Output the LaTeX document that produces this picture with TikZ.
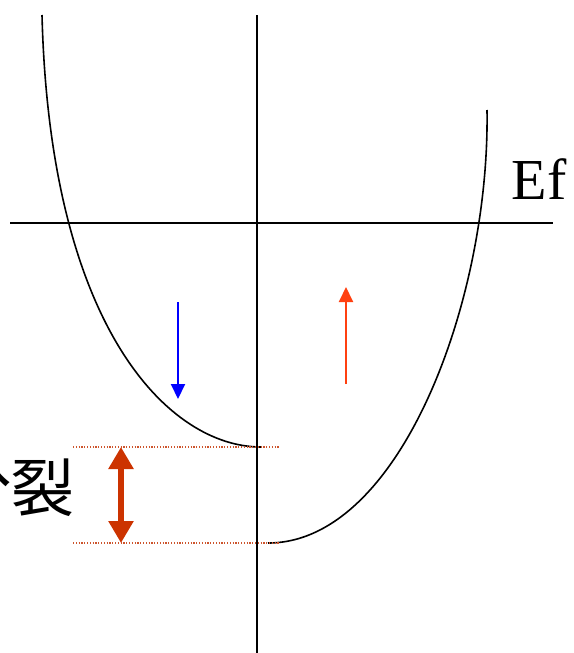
\documentclass[tikz,border=0pt]{standalone}
\usepackage{fontspec}
\setmainfont{Liberation Serif}
\newfontfamily\cjk{Noto Sans CJK JP}
\usetikzlibrary{arrows.meta}
\definecolor{splitred}{RGB}{204,51,0}
\definecolor{dotred}{RGB}{205,85,45}
\definecolor{uparrow}{RGB}{255,64,16}
\tikzset{
  axisline/.style={line width=1.5pt, black},
  band/.style={line width=1.6pt, black},
  level/.style={dotred, line width=1.1pt, dash pattern=on 1.2pt off 1.6pt},
  spinarrow/.style={line width=2pt, -{Triangle[length=15pt,width=14pt]}},
}
\begin{document}
\begin{tikzpicture}[x=1pt,y=-1pt]
\useasboundingbox (0,0) rectangle (573,653);
% axes
\coordinate (vtop) at (257,15);
\coordinate (vbot) at (257,653);
\coordinate (hl) at (10,223);
\coordinate (hr) at (553,223);
\draw[axisline] (vtop) -- (vbot);
\draw[axisline] (hl) -- (hr);
\node[font=\fontsize{58}{60}\selectfont, inner sep=0pt, anchor=base] (ef) at (539,199) {Ef};
% bands
\coordinate (lmin) at (261,447);
\coordinate (ltop) at (42,15);
\coordinate (rmin) at (268,543);
\coordinate (rtop) at (487,110);
\draw[band] (lmin) .. controls (170,447) and (50,330) .. (ltop);
\draw[band] (rmin) .. controls (400,543) and (490,300) .. (rtop);
% level lines
\coordinate (l1a) at (73,447);
\coordinate (l1b) at (279,447);
\coordinate (l2a) at (73,543);
\coordinate (l2b) at (279,543);
\draw[level] (l1a) -- (l1b);
\draw[level] (l2a) -- (l2b);
% splitting arrow
\coordinate (sa) at (121,447);
\coordinate (sb) at (121,543);
\draw[splitred, line width=6pt, {Triangle[length=22pt,width=24pt]}-{Triangle[length=22pt,width=24pt]}] (sa) -- (sb);
\node[font=\cjk\fontsize{63}{65}\selectfont, inner sep=0pt, anchor=base east] (split) at (74.5,511) {分裂};
% spin arrows
\coordinate (ba) at (178,302);
\coordinate (bb) at (178,399);
\draw[spinarrow, blue] (ba) -- (bb);
\coordinate (ra) at (346,384);
\coordinate (rb) at (346,287);
\draw[spinarrow, uparrow] (ra) -- (rb);
\end{tikzpicture}
\end{document}
